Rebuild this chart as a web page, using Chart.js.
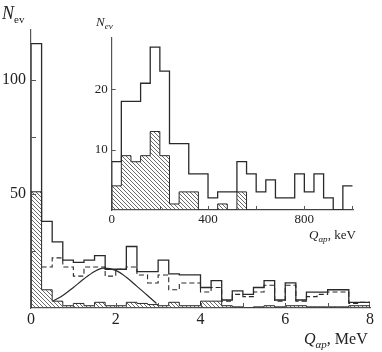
<!DOCTYPE html>
<html>
<head>
<meta charset="utf-8">
<script src="https://cdn.jsdelivr.net/npm/chart.js@4"></script>
<style>
  html, body { margin: 0; padding: 0; background: #fff; }
  #wrap { position: relative; width: 382px; height: 352px; font-family: "Liberation Serif", "DejaVu Serif", serif; color: #222; }
  #main { position: absolute; left: 0; top: 0; }
  #inset { position: absolute; left: 80px; top: 10px; }
  .lbl { position: absolute; white-space: nowrap; line-height: 1; }
  .lbl sub { vertical-align: -0.35em; line-height: 0; }
</style>
</head>
<body>
<div id="wrap">
  <canvas id="main" width="382" height="352"></canvas>
  <canvas id="inset" width="290" height="240"></canvas>
  <div class="lbl" style="left:2px;top:4px;font-size:18px"><i>N</i><sub style="font-size:11px">ev</sub></div>
  <div class="lbl" style="left:96px;top:15px;font-size:13px"><i>N</i><sub style="font-size:9px"><i>ev</i></sub></div>
  <div class="lbl" style="left:304px;top:331px;font-size:16px"><i>Q</i><sub style="font-size:11px"><i>αp</i></sub>, MeV</div>
  <div class="lbl" style="left:309px;top:228px;font-size:13px"><i>Q</i><sub style="font-size:9px"><i>αp</i></sub>, keV</div>
</div>
<script>
// main histogram, 0.25 MeV bins from 0 to 8 MeV
const mainBin = 0.25;
const mainTotal = [116, 38, 29, 21, 20, 21, 23, 17, 17, 27, 16, 16, 21, 15, 14.5, 14.5,
  9, 12, 3.5, 7.5, 6, 9, 12, 3.5, 11, 3.5, 7, 7, 8, 8, 2.5, 2.5];
// dashed histogram starts at the second bin
const mainDashed = [18, 22, 18, 14, 18, 18, 14, 17, 18, 14.5, 11, 14.5, 8, 11, 11,
  7, 9, 3, 6, 5, 7, 10, 3, 10, 3, 5, 6, 7, 7, 2, 2.5];
const mainHatched = [51, 8, 3, 1, 2, 1, 2.5, 1, 1, 2.5, 2, 1.5, 1, 2.5, 1, 1,
  3, 3, 1, 0.5, 0, 0.5, 1, 0.5, 1, 1, 0.5, 0.5, 0.5, 0.5, 1, 1];
// smooth curve
const curveX = [0.52, 0.75, 1.0, 1.25, 1.5, 1.7, 2.0, 2.25, 2.5, 2.75, 2.96];
const curveY = [3, 5.5, 9, 12.8, 16, 17.5, 16.5, 13.5, 9.5, 5.5, 2];

// inset histogram, 40 keV bins from 0 to 1000 keV
const insetBin = 40;
const insetTotal = [8, 18, 18, 21, 27, 23, 11, 11, 6, 6, 2, 3, 3, 8, 6, 3, 5, 2, 2, 6, 3, 6, 2, 0, 4];
const insetHatched = [4, 9, 8, 9, 13, 9, 1, 3, 3, 0, 0, 1, 0, 3, 0, 0, 0, 0, 0, 0, 0, 0, 0, 0, 0];

const mainXTicks = [0, 2, 4, 6, 8];
const mainYTicks = [50, 100];
const mainXMarks = [1, 2, 3, 4, 5, 6, 7];
const mainYMarks = [25, 50, 75, 100];
const insetXTicks = [0, 400, 800];
const insetYTicks = [10, 20];
const insetXMarks = [200, 400, 600, 800, 1000];
const insetYMarks = [10, 20];

const ink = '#2a2a2a';
const axisColor = '#555';

// step outline points: value of bin i holds from edge i to edge i+1
function steps(values, width, offset, fromZero, toZero) {
  const pts = [];
  if (fromZero) pts.push({x: offset * width, y: 0});
  values.forEach((v, i) => pts.push({x: (i + offset) * width, y: v}));
  const end = (values.length + offset) * width;
  pts.push({x: end, y: values[values.length - 1]});
  if (toZero) pts.push({x: end, y: 0});
  return pts;
}

function hatch() {
  const c = document.createElement('canvas');
  c.width = 4; c.height = 4;
  const g = c.getContext('2d');
  g.strokeStyle = '#444';
  g.lineWidth = 0.8;
  g.beginPath();
  g.moveTo(-1, -1); g.lineTo(5, 5);
  g.moveTo(-1, 3); g.lineTo(1, 5);
  g.moveTo(3, -1); g.lineTo(5, 1);
  g.stroke();
  return g.createPattern(c, 'repeat');
}

// short tick marks pointing into the plot
const innerTicks = {
  id: 'innerTicks',
  afterDraw(chart, args, opts) {
    const {ctx, chartArea: a} = chart;
    const x = chart.scales.x, y = chart.scales.y;
    ctx.save();
    ctx.strokeStyle = axisColor;
    ctx.lineWidth = 1;
    ctx.beginPath();
    opts.x.forEach(v => {
      const px = Math.round(x.getPixelForValue(v)) + 0.5;
      ctx.moveTo(px, a.bottom); ctx.lineTo(px, a.bottom - opts.len);
    });
    opts.y.forEach(v => {
      const py = Math.round(y.getPixelForValue(v)) + 0.5;
      ctx.moveTo(a.left, py); ctx.lineTo(a.left + opts.len, py);
    });
    ctx.stroke();
    ctx.restore();
  }
};

function axis(min, max, tickValues, fontSize, pad, size, horizontal) {
  return {
    type: 'linear', min: min, max: max,
    afterBuildTicks: s => { s.ticks = tickValues.map(v => ({value: v})); },
    afterFit: s => { if (horizontal) s.height = size; else s.width = size; },
    grid: { display: true, drawOnChartArea: false, drawTicks: false },
    border: { display: true, color: axisColor, width: 1.2 },
    ticks: {
      autoSkip: false, maxRotation: 0, padding: pad, color: '#222',
      font: { family: '"Liberation Serif", serif', size: fontSize }
    }
  };
}

const pattern = hatch();

new Chart(document.getElementById('main'), {
  type: 'line',
  data: {
    datasets: [
      { data: steps(mainHatched, mainBin, 0, true, true), stepped: 'before', fill: 'origin',
        backgroundColor: pattern, borderColor: ink, borderWidth: 1 },
      { data: steps(mainTotal, mainBin, 0, true, true), stepped: 'before', fill: false,
        borderColor: ink, borderWidth: 1.3 },
      { data: steps(mainDashed, mainBin, 1, false, false), stepped: 'before', fill: false,
        borderColor: ink, borderWidth: 1.1, borderDash: [5, 3] },
      { data: curveX.map((x, i) => ({x: x, y: curveY[i]})), fill: false,
        cubicInterpolationMode: 'monotone', borderColor: ink, borderWidth: 1.2 }
    ]
  },
  options: {
    responsive: false,
    animation: false,
    layout: { padding: { left: 0, right: 12, top: 30, bottom: 0 } },
    elements: { point: { radius: 0 } },
    plugins: {
      legend: { display: false },
      tooltip: { enabled: false },
      innerTicks: { x: mainXMarks, y: mainYMarks, len: 5 }
    },
    scales: {
      x: axis(0, 8, mainXTicks, 16, 2, 44, true),
      y: axis(0, 122, mainYTicks, 16, 5, 31, false)
    }
  },
  plugins: [innerTicks]
});

new Chart(document.getElementById('inset'), {
  type: 'line',
  data: {
    datasets: [
      { data: steps(insetHatched, insetBin, 0, true, true), stepped: 'before', fill: 'origin',
        backgroundColor: pattern, borderColor: ink, borderWidth: 1 },
      { data: steps(insetTotal, insetBin, 0, true, false), stepped: 'before', fill: false,
        borderColor: ink, borderWidth: 1.3 }
    ]
  },
  options: {
    responsive: false,
    animation: false,
    layout: { padding: { left: 0, right: 16.3, top: 28, bottom: 0 } },
    elements: { point: { radius: 0 } },
    plugins: {
      legend: { display: false },
      tooltip: { enabled: false },
      innerTicks: { x: insetXMarks, y: insetYMarks, len: 4 }
    },
    scales: {
      x: axis(0, 1005, insetXTicks, 13, 2, 40, true),
      y: axis(0, 28.5, insetYTicks, 13, 4, 31.7, false)
    }
  },
  plugins: [innerTicks]
});
</script>
</body>
</html>
